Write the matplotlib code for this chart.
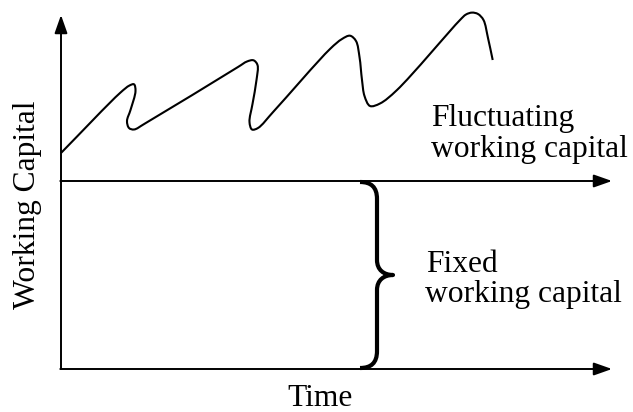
import numpy as np
import matplotlib
matplotlib.use("Agg")
import matplotlib.pyplot as plt
from matplotlib.path import Path
from matplotlib.patches import PathPatch

# ---- data (sketch coordinates, pixel-like units, y grows downward) ----
curve_x = [61, 120, 129.5, 134, 135.5, 130.5, 127, 129, 134, 145,
           238, 247, 253.5, 257.5, 256.5, 252.5, 249.5, 252, 258, 274,
           330, 342, 350, 356, 359.5, 362, 364.5, 370, 380, 397,
           460, 466, 472, 478, 483.5, 488, 492.7]
curve_y = [153, 93, 85.5, 84.3, 91, 110, 121, 128, 129.5, 123.5,
           67, 61.5, 60.3, 65, 80, 104, 122, 129.5, 128, 111,
           49, 39, 35.7, 41, 57, 80, 96, 106, 103.5, 90,
           20, 14.5, 12.6, 14, 20, 38, 60]

y_axis_x = 61
y_axis_bottom, y_axis_top = 369, 15
fixed_level = 181
x_end = 612
brace_x = 360

label_y = "Working Capital"
label_x = "Time"
label_fluct = ["Fluctuating", "working capital"]
label_fixed = ["Fixed", "working capital"]

FONT = ["Liberation Serif", "DejaVu Serif"]
FS = 22.7


def smooth_path(xs, ys, alpha=0.5):
    """Centripetal Catmull-Rom through the points, drawn as cubic Beziers."""
    P = np.column_stack([xs, ys]).astype(float)
    P = np.vstack([2 * P[0] - P[1], P, 2 * P[-1] - P[-2]])
    verts = [P[1]]
    codes = [Path.MOVETO]
    for i in range(1, len(P) - 2):
        p0, p1, p2, p3 = P[i - 1], P[i], P[i + 1], P[i + 2]
        t01 = np.linalg.norm(p1 - p0) ** alpha
        t12 = np.linalg.norm(p2 - p1) ** alpha
        t23 = np.linalg.norm(p3 - p2) ** alpha
        m1 = t12 * ((p1 - p0) / t01 - (p2 - p0) / (t01 + t12) + (p2 - p1) / t12)
        m2 = t12 * ((p2 - p1) / t12 - (p3 - p1) / (t12 + t23) + (p3 - p2) / t23)
        verts += [p1 + m1 / 3.0, p2 - m2 / 3.0, p2]
        codes += [Path.CURVE4] * 3
    return Path(verts, codes)


fig = plt.figure(figsize=(6.33, 4.12), dpi=100)
ax = fig.add_axes([0, 0, 1, 1])
ax.set_xlim(0, 633)
ax.set_ylim(412, 0)
ax.axis("off")

arrow_kw = dict(arrowstyle="-|>,head_length=0.85,head_width=0.3",
                mutation_scale=13, lw=1.4, color="black",
                shrinkA=0, shrinkB=0)

# axes with arrows
ax.annotate("", xy=(y_axis_x, y_axis_top), xytext=(y_axis_x, y_axis_bottom),
            arrowprops=arrow_kw)
ax.annotate("", xy=(x_end, y_axis_bottom), xytext=(y_axis_x - 0.7, y_axis_bottom),
            arrowprops=arrow_kw)
ax.annotate("", xy=(x_end, fixed_level), xytext=(y_axis_x - 0.7, fixed_level),
            arrowprops=arrow_kw)

# fluctuating curve
ax.add_patch(PathPatch(smooth_path(curve_x, curve_y), fill=False,
                       lw=1.5, edgecolor="black", capstyle="butt"))

# brace
top, bot = fixed_level + 1, y_axis_bottom - 1
mid = (top + bot) / 2
bx0 = brace_x
bx1 = brace_x + 17
tip = brace_x + 33
bverts = [
    (bx0, top),
    (bx0 + 11, top), (bx1, top + 5), (bx1, top + 17),
    (bx1, mid - 15),
    (bx1, mid - 5), (bx1 + 7, mid), (tip, mid),
    (bx1 + 7, mid), (bx1, mid + 5), (bx1, mid + 15),
    (bx1, bot - 17),
    (bx1, bot - 5), (bx0 + 11, bot), (bx0, bot),
]
bcodes = [Path.MOVETO,
          Path.CURVE4, Path.CURVE4, Path.CURVE4,
          Path.LINETO,
          Path.CURVE4, Path.CURVE4, Path.CURVE4,
          Path.CURVE4, Path.CURVE4, Path.CURVE4,
          Path.LINETO,
          Path.CURVE4, Path.CURVE4, Path.CURVE4]
ax.add_patch(PathPatch(Path(bverts, bcodes), fill=False, lw=3.0,
                       edgecolor="black", capstyle="butt", joinstyle="round"))

# texts
ax.text(28, 205, label_y, rotation=90, ha="center", va="center",
        fontsize=FS, family=FONT)
ax.text(320, 406, label_x, ha="center", va="baseline",
        fontsize=FS, family=FONT)
ax.text(431, 126, label_fluct[0], ha="left", va="baseline", fontsize=FS, family=FONT)
ax.text(431, 157, label_fluct[1], ha="left", va="baseline", fontsize=FS, family=FONT)
ax.text(426, 272, label_fixed[0], ha="left", va="baseline", fontsize=FS, family=FONT)
ax.text(425, 302, label_fixed[1], ha="left", va="baseline", fontsize=FS, family=FONT)

fig.savefig("out.png", dpi=100, facecolor="white")
